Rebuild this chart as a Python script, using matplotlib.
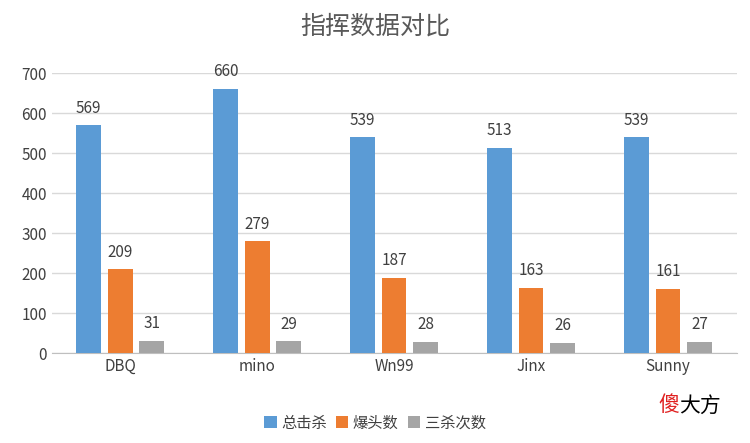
import matplotlib
matplotlib.use("Agg")
import matplotlib.pyplot as plt
import numpy as np

plt.rcParams['font.family'] = ['Noto Sans CJK SC', 'DejaVu Sans']

categories = ["DBQ", "mino", "Wn99", "Jinx", "Sunny"]
series_names = ["总击杀", "爆头数", "三杀次数"]
total_kills = [569, 660, 539, 513, 539]
headshots = [209, 279, 187, 163, 161]
triple_kills = [31, 29, 28, 26, 27]
colors = ["#5B9BD5", "#ED7D31", "#A5A5A5"]

fig = plt.figure(figsize=(7.5, 4.43), dpi=100)
ax = fig.add_axes([0.069, 0.203, 0.913, 0.632])
x = np.arange(len(categories))
w = 0.18
off = 0.23
for i, (vals, name) in enumerate(zip([total_kills, headshots, triple_kills], series_names)):
    bars = ax.bar(x + (i - 1) * off, vals, w, color=colors[i], label=name, zorder=3)
    for b, v in zip(bars, vals):
        ax.text(b.get_x() + b.get_width() / 2, v + 22, str(v), ha='center', va='bottom',
                fontsize=11, color='#404040')

ax.set_xlim(-0.5, len(categories) - 0.5)
ax.set_ylim(0, 700)
ax.set_yticks(range(0, 701, 100))
ax.set_xticks(x)
ax.set_xticklabels(categories)
ax.tick_params(length=0, labelsize=11, labelcolor='#404040')
ax.grid(axis='y', color='#D9D9D9', linewidth=1, zorder=0)
for s in ['top', 'right', 'left']:
    ax.spines[s].set_visible(False)
ax.spines['bottom'].set_color('#BFBFBF')

fig.text(0.5, 0.94, "指挥数据对比", ha='center', va='center', fontsize=18, color='#595959')
fig.legend(loc='center', bbox_to_anchor=(0.5, 0.045), ncol=3, frameon=False,
           fontsize=11, handlelength=0.8, handleheight=0.8, columnspacing=0.6, handletextpad=0.3,
           labelcolor='#404040')
fig.text(0.878, 0.085, "傻", color='#E02020', fontsize=15, ha='left', va='center')
fig.text(0.905, 0.085, "大方", color='black', fontsize=15, ha='left', va='center')

fig.savefig("out.png", dpi=100)
